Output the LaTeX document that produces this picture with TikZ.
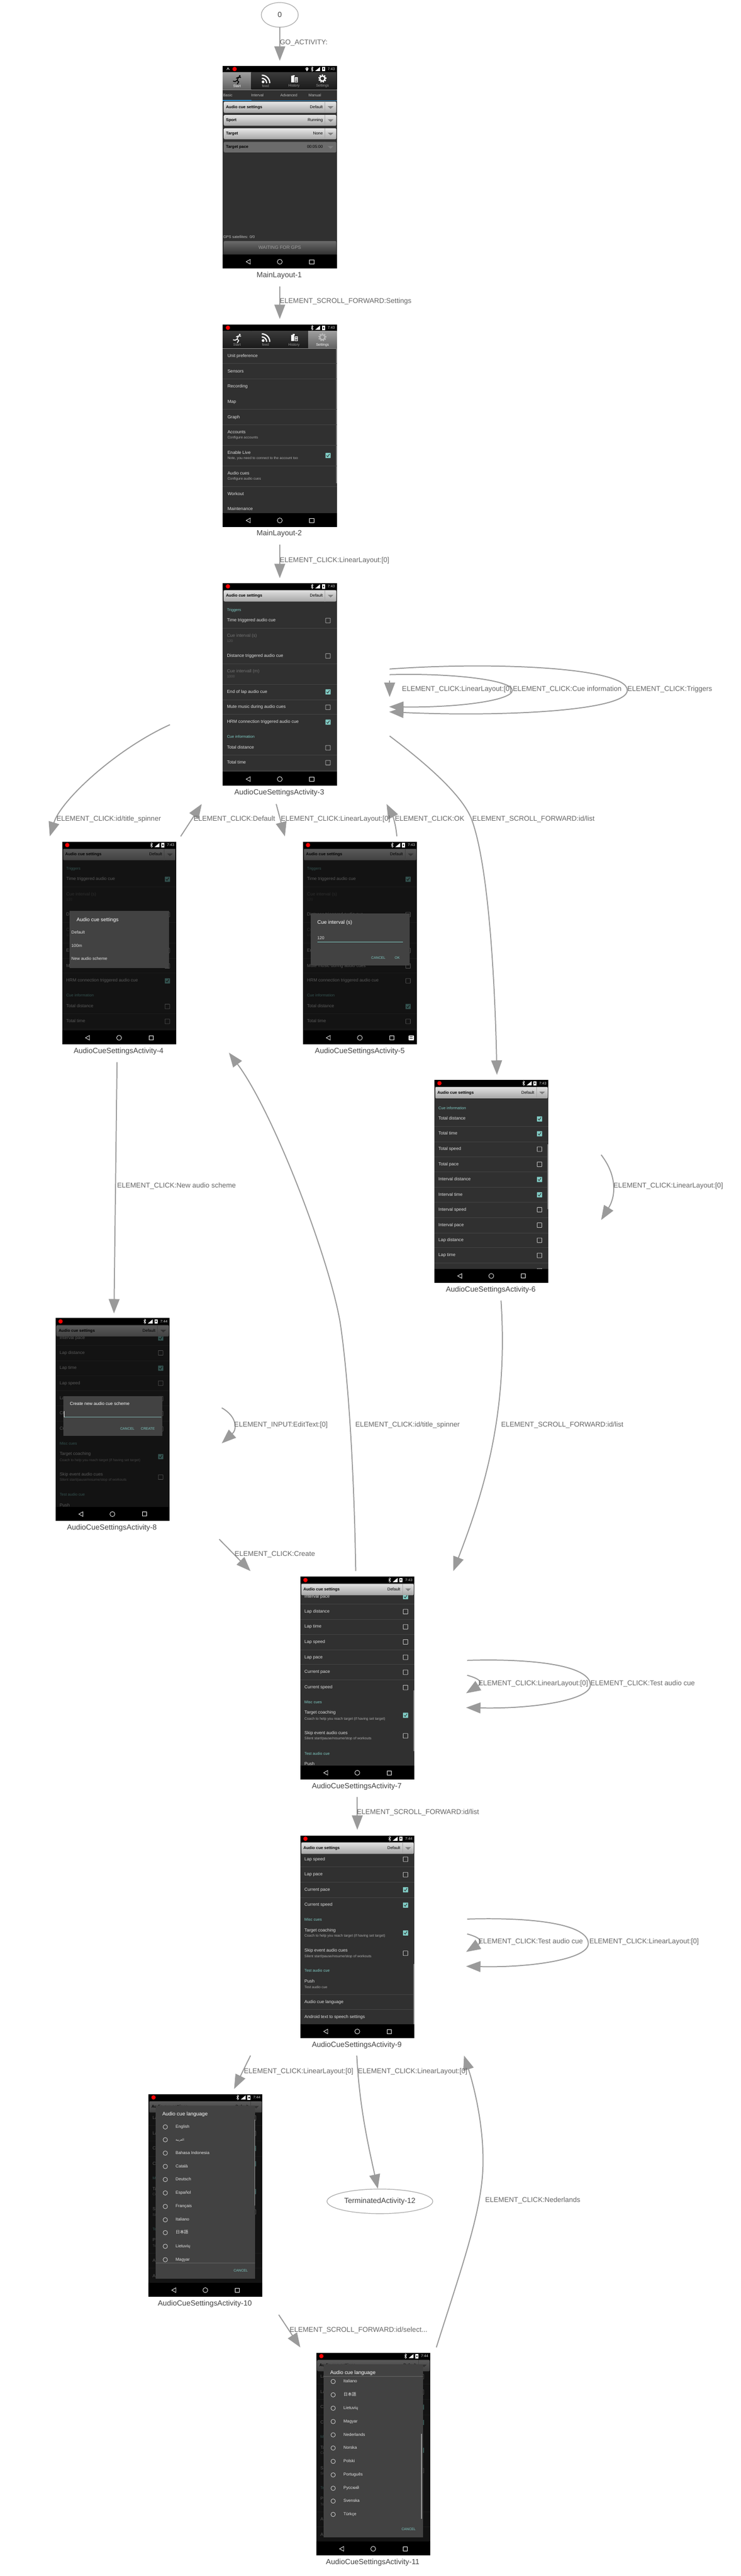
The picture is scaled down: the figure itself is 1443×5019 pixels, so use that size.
\documentclass[tikz,border=0pt]{standalone}
\usepackage{fontspec}
\setmainfont{Liberation Sans}
\newfontfamily\cjkf{Noto Sans CJK JP}
\newfontfamily\arfont[Script=Arabic]{DejaVu Sans}
\TeXXeTstate=1
\usetikzlibrary{arrows.meta,calc,shapes.geometric}
\definecolor{scrbg}{HTML}{303030}
\definecolor{dlgbg}{HTML}{424242}
\definecolor{tealc}{HTML}{80CBC4}
\definecolor{edgec}{HTML}{9A9A9A}
\definecolor{elab}{HTML}{666666}
\definecolor{nlab}{HTML}{444444}
\definecolor{divc}{HTML}{454545}
\definecolor{recc}{HTML}{FF0000}
\tikzset{
 gbox/.style={rectangle,minimum width=428pt,minimum height=440pt,inner sep=0pt,outer sep=0pt},
 screenbox/.style={rectangle,fill=scrbg,minimum width=222pt,minimum height=395pt,inner sep=0pt,outer sep=0pt},
 flow/.style={draw=edgec,line width=2pt,-{Triangle[length=28pt,width=21pt]}},
 elabel/.style={anchor=west,inner sep=0pt,text=elab,text height=9.8pt,text depth=2.8pt,font=\fontsize{13.6}{16}\selectfont},
 nlabel/.style={inner sep=0pt,text=nlab,text height=10.4pt,text depth=3pt,font=\fontsize{14.5}{17}\selectfont},
 oval/.style={ellipse,draw=gray!70,line width=1.2pt,inner sep=0pt,text=nlab,font=\fontsize{14.5}{17}\selectfont},
 tx/.style={anchor=west,inner sep=0pt,text=white!88!black,text height=6.2pt,text depth=1.8pt,font=\fontsize{8.6}{10}\selectfont},
 sx/.style={anchor=west,inner sep=0pt,text=white!68!black,text height=5pt,text depth=1.5pt,font=\fontsize{6.9}{8}\selectfont},
 gx/.style={anchor=west,inner sep=0pt,text=white!45!black,text height=6.2pt,text depth=1.8pt,font=\fontsize{8.6}{10}\selectfont},
 gsx/.style={anchor=west,inner sep=0pt,text=white!38!black,text height=5pt,text depth=1.5pt,font=\fontsize{6.9}{8}\selectfont},
 hx/.style={anchor=west,inner sep=0pt,text=tealc,text height=5.5pt,text depth=1.6pt,font=\fontsize{7.6}{9}\selectfont},
 bx/.style={anchor=west,inner sep=0pt,text=black,text height=5.7pt,text depth=1.6pt,font=\bfseries\fontsize{7.9}{9}\selectfont},
 vx/.style={anchor=east,inner sep=0pt,text=black,text height=5.7pt,text depth=1.6pt,font=\fontsize{7.9}{9}\selectfont},
 btn/.style={inner sep=0pt,text=tealc,font=\fontsize{6.8}{8}\selectfont},
 dt/.style={anchor=west,inner sep=0pt,text=white,text height=7.2pt,text depth=2pt,font=\fontsize{10}{12}\selectfont},
 dr/.style={anchor=west,inner sep=0pt,text=white!90!black,text height=5.9pt,text depth=1.7pt,font=\fontsize{8.2}{10}\selectfont},
 tabtx/.style={anchor=west,inner sep=0pt,text=white!75!black,text height=5.3pt,text depth=1.6pt,font=\fontsize{7.4}{9}\selectfont},
}
\newcommand{\xrow}[2]{\node[tx] at (8,#1) {#2};}
\newcommand{\xsub}[2]{\node[sx] at (8,#1) {#2};}
\newcommand{\xhead}[2]{\node[hx] at (8,#1) {#2};}
\newcommand{\xdv}[1]{\draw[divc,line width=.7pt] (0,#1) -- (222,#1);}
\newcommand{\xoff}[1]{\draw[white!80!black,line width=.8pt,rounded corners=.5pt] (200.4,#1-4.5) rectangle (209.4,#1+4.5);}
\newcommand{\xon}[1]{\fill[tealc,rounded corners=.5pt] (200,#1-5) rectangle (210,#1+5);
 \draw[scrbg,line width=1pt] (202.2,#1) -- (204.3,#1+2.3) -- (208,#1-3);}
\newcommand{\xchk}[2]{\ifnum#1=1 \xon{#2}\else\xoff{#2}\fi}
\newcommand{\xstatus}[3]{% time, dot x, extras flag
 \fill[black] (0,0) rectangle (222,13);
 \fill[recc] (#2,6.5) circle (4.2pt);
 \draw[white,line width=.7pt] (172,4) -- (176,9) -- (174,11) -- (174,2) -- (176,4) -- (172,9);
 \fill[white] (180,10.5) -- (189.5,10.5) -- (189.5,2.5) -- cycle;
 \fill[white] (193.2,2.5) rectangle (199.2,11);
 \fill[black] (195,5) rectangle (197.4,8);
 \node[anchor=east,inner sep=0pt,text=white!85!black,font=\fontsize{7.2}{8}\selectfont] at (218.5,6.6) {#1};
 \ifnum#3=1
  \fill[white] (164,6) circle (2.8pt);
  \fill[white] (161.6,7) -- (164,11) -- (166.4,7) -- cycle;
  \fill[black] (164,6) circle (1pt);
  \draw[white,line width=.8pt] (8,8) -- (10,4) -- (12.5,8);
 \fi}
\newcommand{\xnav}{%
 \fill[black] (0,368) rectangle (222,395);
 \draw[white,line width=.8pt] (53.5,377.5) -- (45.5,382) -- (53.5,386.5) -- cycle;
 \draw[white,line width=.8pt] (111,382) circle (4.8pt);
 \draw[white,line width=.8pt] (169,378) rectangle (177.5,386);}
\newcommand{\xspin}[6]{%
 \pgfmathsetmacro\ymid{(#1+#2)/2}
 \shade[top color=#5,bottom color=#6,rounded corners=2pt] (2,#1) rectangle (221,#2);
 \draw[#6,line width=.7pt] (199,#1) -- (199,#2);
 \fill[gray] (204.5,\ymid-2) -- (215.5,\ymid-2) -- (210,\ymid+3) -- cycle;
 \node[bx] at (6,\ymid) {#3};
 \node[vx] at (195,\ymid) {#4};}
\newcommand{\xtopspin}{\xspin{14}{36}{Audio cue settings}{Default}{white!88!black}{white!65!black}}
\newcommand{\xdim}{\fill[black,opacity=.6] (0,13) rectangle (222,368);}
\newcommand{\xtabs}[1]{%
 \foreach \i/\lab in {0/Start,1/feed,2/History,3/Settings}{
  \pgfmathsetmacro\xa{55.5*\i}\pgfmathsetmacro\xb{55.5*\i+55.5}\pgfmathsetmacro\xc{55.5*\i+27.75}
  \ifnum\i=#1
   \shade[top color=white!62!black,bottom color=white!38!black] (\xa,13) rectangle (\xb,47);
   \node[inner sep=0pt,text=white,font=\fontsize{7}{8}\selectfont] at (\xc,39.8) {\lab};
  \else
   \shade[top color=white!23!black,bottom color=black!90!white] (\xa,13) rectangle (\xb,46);
   \draw[black,line width=.5pt] (\xb,13) -- (\xb,46);
   \node[inner sep=0pt,text=white!60!black,font=\fontsize{7}{8}\selectfont] at (\xc,39.8) {\lab};
  \fi}
 \draw[white!55!black,line width=.7pt] (0,46.7) -- (222,46.7);
 \fill[white] (78.5,31.5) circle (2.7pt);
 \draw[white,line width=2.4pt] (76,24.5) arc[start angle=90,end angle=0,radius=9.5pt];
 \draw[white,line width=2.4pt] (76,18.5) arc[start angle=90,end angle=0,radius=15.5pt];
 \fill[white] (133,20) rectangle (139,32.7);
 \fill[white] (136,18.3) rectangle (140,21);
 \fill[white] (140,23) rectangle (146,32.7);
 \draw[black,line width=.5pt] (141,26) -- (145,26) (141,28.5) -- (145,28.5) (141,30.8) -- (145,30.8);}
\newcommand{\xgear}[1]{%
 \draw[#1,line width=2.4pt] (194,25) circle (5pt);
 \draw[#1,line width=2pt,dash pattern=on 2.4pt off 2.4pt] (194,25) circle (7pt);}
\newcommand{\xrunner}[1]{%
 \fill[#1] (33,20) circle (1.9pt);
 \draw[#1,line width=1.7pt] (35.5,23) -- (30.5,22.5) -- (26,24.5) (30.5,22.5) -- (28,28.5) -- (31,31.5) -- (28,36) (28,28.5) -- (24,31) -- (20,30);}
% base of activities 3, 4, 5
\newcommand{\xbaseA}[5]{%
 \xhead{53}{Triggers}
 \xrow{73}{Time triggered audio cue}\xchk{#1}{73}
 \xdv{88}
 \node[gx] at (8,103) {Cue interval (s)};
 \node[gsx] at (8,113.5) {120};
 \xrow{142}{Distance triggered audio cue}\xoff{142}
 \xdv{157.5}
 \node[gx] at (8,172) {Cue intervall (m)};
 \node[gsx] at (8,183) {1000};
 \xdv{197}
 \xrow{212}{End of lap audio cue}\xchk{#2}{212}
 \xdv{227}
 \xrow{242}{Mute music during audio cues}\xoff{242}
 \xdv{256}
 \xrow{271}{HRM connection triggered audio cue}\xchk{#3}{271}
 \xhead{300}{Cue information}
 \xrow{321}{Total distance}\xchk{#4}{321}
 \xdv{335}
 \xrow{350}{Total time}\xchk{#5}{350}
 \xdv{365}}
% base of activities 7, 8
\newcommand{\xbaseB}[1]{%
 \xrow{39}{Interval pace}\xon{39}
 \xdv{53}
 \xrow{68}{Lap distance}\xoff{68}
 \xdv{83}
 \xrow{97.6}{Lap time}\xchk{#1}{97.6}
 \xdv{112}
 \xrow{127}{Lap speed}\xoff{127}
 \xdv{142}
 \xrow{157}{Lap pace}\xoff{157}
 \xdv{171}
 \xrow{186}{Current pace}\xoff{186}
 \xdv{201}
 \xrow{216}{Current speed}\xoff{216}
 \xhead{245}{Misc cues}
 \xrow{265}{Target coaching}
 \xsub{277}{Coach to help you reach target (if having set target)}\xon{270}
 \xrow{305.5}{Skip event audio cues}
 \xsub{316}{Silent start/pause/resume/stop of workouts}\xoff{310}
 \xhead{345}{Test audio cue}
 \xrow{365}{Push}
 \xtopspin}
% base of activities 9, 10, 11
\newcommand{\xbaseC}{%
 \xrow{46.5}{Lap speed}\xoff{46.5}
 \xdv{61}
 \xrow{76.5}{Lap pace}\xoff{76.5}
 \xdv{91}
 \xrow{106}{Current pace}\xon{106}
 \xdv{121}
 \xrow{135.8}{Current speed}\xon{135.8}
 \xhead{164.5}{Misc cues}
 \xrow{185}{Target coaching}
 \xsub{196}{Coach to help you reach target (if having set target)}\xon{190}
 \xrow{225}{Skip event audio cues}
 \xsub{236}{Silent start/pause/resume/stop of workouts}\xoff{229.6}
 \xhead{264}{Test audio cue}
 \xrow{285}{Push}
 \xsub{296}{Test audio cue}
 \xdv{310}
 \xrow{325}{Audio cue language}
 \xdv{339}
 \xrow{354.6}{Android text to speech settings}
 \xtopspin}
\newcommand{\xradio}[2]{%
 \draw[white!85!black,line width=.8pt] (33,#1) circle (4.3pt);
 \node[dr] at (53,#1) {#2};}
\newcommand{\xlangdlg}{%
 \fill[dlgbg] (14,22) rectangle (208,360);
 \node[dt] at (27,39) {Audio cue language};
 \node[btn] at (180,344) {CANCEL};}
\begin{document}
\begin{tikzpicture}[x=1pt,y=-1pt]
\useasboundingbox (0,0) rectangle (1443,5019);
\fill[white] (0,0) rectangle (1443,5019);
% layout boxes that the connectors attach to
\node[gbox] (n1) at (545,338.5) {};
\node[gbox] (n2) at (545,841.5) {};
\node[gbox] (n3) at (545,1346.5) {};
\node[gbox] (n4) at (232,1849.5) {};
\node[gbox] (n5) at (701,1849.5) {};
\node[gbox] (n6) at (957,2314) {};
\node[gbox] (n7) at (696,3281) {};
\node[gbox] (n8) at (219,2779) {};
\node[gbox] (n9) at (696,3785) {};
\node[gbox] (n10) at (400,4290) {};
\node[gbox] (n11) at (727,4793.5) {};
\node[oval,minimum width=72pt,minimum height=48pt] (n0) at (545,29) {0};
\node[oval,minimum width=206pt,minimum height=48pt] (n12) at (740,4289) {TerminatedActivity-12};

% MainLayout-1
\node[screenbox] (s1) at (545,325.5) {};
\begin{scope}[shift={(434,128)}]
 \xstatus{7:43}{23}{1}
 \xtabs{0}
 \xrunner{black}
 \xgear{white}
 \node[tabtx] at (.5,58.4) {Basic};
 \node[tabtx] at (55,58.4) {Interval};
 \node[tabtx] at (112,58.4) {Advanced};
 \node[tabtx] at (167,58.4) {Manual};
 \fill[cyan!70!blue!85!white] (0,66.5) rectangle (56,69);
 \fill[cyan!70!blue!85!white] (56,68) rectangle (222,69);
 \xspin{70}{92}{Audio cue settings}{Default}{white!90!black}{white!65!black}
 \xspin{96}{117}{Sport}{Running}{white!90!black}{white!65!black}
 \xspin{122}{143.3}{Target}{None}{white!90!black}{white!65!black}
 \xspin{148.3}{169}{Target pace}{00:05:00}{white!42!black}{white!42!black}
 \node[tabtx] at (.7,334) {GPS satellites: 0/0};
 \shade[top color=white!42!black,bottom color=white!20!black,rounded corners=2pt] (2,341.6) rectangle (221,367);
 \node[inner sep=0pt,text=white!62!black,font=\fontsize{9.2}{11}\selectfont] at (111,354) {WAITING FOR GPS};
 \xnav
\end{scope}
\node[nlabel] (l1) at (544,537) {MainLayout-1};

% MainLayout-2
\node[screenbox] (s2) at (545,829.5) {};
\begin{scope}[shift={(434,632)}]
 \xstatus{7:43}{10}{0}
 \xtabs{3}
 \xrunner{white}
 \xgear{white!72!black}
 \fill[white!45!black] (220.5,47) rectangle (222,310);
 \node[tx] at (9,62) {Unit preference}; \xdv{76}
 \node[tx] at (9,92) {Sensors}; \xdv{106}
 \node[tx] at (9,121.5) {Recording};
 \node[tx] at (9,151) {Map}; \xdv{165}
 \node[tx] at (9,181) {Graph}; \xdv{195}
 \node[tx] at (9,210) {Accounts};
 \node[sx] at (9,221) {Configure accounts}; \xdv{235.5}
 \node[tx] at (9,250.5) {Enable Live};
 \node[sx] at (9,261) {Note, you need to connect to the account too};
 \xon{255.5} \xdv{275.5}
 \node[tx] at (9,290.5) {Audio cues};
 \node[sx] at (9,301.6) {Configure audio cues}; \xdv{315.5}
 \node[tx] at (9,330.5) {Workout};
 \node[tx] at (9,360) {Maintenance};
 \xnav
\end{scope}
\node[nlabel] (l2) at (544,1040) {MainLayout-2};

% AudioCueSettingsActivity-3
\node[screenbox] (s3) at (545,1333.5) {};
\begin{scope}[shift={(434,1136)}]
 \xstatus{7:43}{10}{0}
 \xtopspin
 \xbaseA{0}{1}{1}{0}{0}
 \xnav
\end{scope}
\node[nlabel] (l3) at (544,1545) {AudioCueSettingsActivity-3};

% AudioCueSettingsActivity-4
\node[screenbox] (s4) at (232,1837.5) {};
\begin{scope}[shift={(121,1640)}]
 \xstatus{7:43}{10}{0}
 \xtopspin
 \xbaseA{1}{0}{1}{0}{0}
 \xdim
 \fill[dlgbg] (15,135) rectangle (208,246);
 \node[dt] at (28,153) {Audio cue settings};
 \node[dr] at (18,177) {Default};
 \node[dr] at (18,203) {100m};
 \node[dr] at (18,228) {New audio scheme};
 \xnav
\end{scope}
\node[nlabel] (l4) at (231,2049) {AudioCueSettingsActivity-4};

% AudioCueSettingsActivity-5
\node[screenbox] (s5) at (701,1837.5) {};
\begin{scope}[shift={(590,1640)}]
 \xstatus{7:43}{10}{0}
 \xtopspin
 \xbaseA{1}{0}{0}{1}{0}
 \xdim
 \fill[dlgbg] (15,140) rectangle (208,241);
 \node[dt] at (28,158) {Cue interval (s)};
 \node[dr] at (28,188) {120};
 \fill[tealc] (28,195) rectangle (195,196);
 \node[btn] at (147,226) {CANCEL};
 \node[btn] at (184,226) {OK};
 \xnav
 \fill[white,rounded corners=1pt] (206,377.5) rectangle (216.5,387);
 \draw[black,line width=.7pt] (208,380) -- (214.5,380) (208.5,383) -- (214,383);
\end{scope}
\node[nlabel] (l5) at (701,2049) {AudioCueSettingsActivity-5};

% AudioCueSettingsActivity-6
\node[screenbox] (s6) at (957,2301.5) {};
\begin{scope}[shift={(846,2104)}]
 \xstatus{7:43}{10}{0}
 \xtopspin
 \xhead{55.5}{Cue information}
 \xrow{76}{Total distance}\xon{76}\xdv{90.5}
 \xrow{105}{Total time}\xon{105}\xdv{120.5}
 \xrow{135}{Total speed}\xoff{135}\xdv{150}
 \xrow{164.5}{Total pace}\xoff{164.5}\xdv{179}
 \xrow{194}{Interval distance}\xon{194}\xdv{209}
 \xrow{224}{Interval time}\xon{224}\xdv{238.5}
 \xrow{253}{Interval speed}\xoff{253}\xdv{268}
 \xrow{283}{Interval pace}\xoff{283}\xdv{298}
 \xrow{312.5}{Lap distance}\xoff{312.5}\xdv{327}
 \xrow{342}{Lap time}\xoff{342}\xdv{357}
 \xoff{372}
 \fill[white!45!black] (220.3,125.6) rectangle (222,252);
 \xnav
\end{scope}
\node[nlabel] (l6) at (956,2513) {AudioCueSettingsActivity-6};

% AudioCueSettingsActivity-7
\node[screenbox] (s7) at (696,3269.5) {};
\begin{scope}[shift={(585,3072)}]
 \xstatus{7:43}{10}{0}
 \xbaseB{0}
 \fill[white!45!black] (220.3,221) rectangle (222,340);
 \xnav
\end{scope}
\node[nlabel] (l7) at (695,3481) {AudioCueSettingsActivity-7};

% AudioCueSettingsActivity-8
\node[screenbox] (s8) at (219,2765.5) {};
\begin{scope}[shift={(108,2568)}]
 \xstatus{7:44}{10}{0}
 \xbaseB{1}
 \xdim
 \fill[dlgbg] (15,152) rectangle (208,230);
 \node[tx,text=white] at (28,168) {Create new audio cue scheme};
 \draw[tealc!70!gray,line width=.8pt] (17,193) -- (206,193);
 \draw[white,line width=.7pt] (17,181) -- (17,193);
 \node[btn] at (140,215.6) {CANCEL};
 \node[btn] at (180,215.6) {CREATE};
 \xnav
\end{scope}
\node[nlabel] (l8) at (218,2977) {AudioCueSettingsActivity-8};

% AudioCueSettingsActivity-9
\node[screenbox] (s9) at (696,3773.5) {};
\begin{scope}[shift={(585,3576)}]
 \xstatus{7:44}{10}{0}
 \xbaseC
 \fill[white!45!black] (220.3,250) rectangle (222,369);
 \xnav
\end{scope}
\node[nlabel] (l9) at (695,3985) {AudioCueSettingsActivity-9};

% AudioCueSettingsActivity-10
\node[screenbox] (s10) at (400,4277.5) {};
\begin{scope}[shift={(289,4080)}]
 \xstatus{7:44}{10}{0}
 \xbaseC
 \xdim
 \xlangdlg
 \xradio{64}{English}
 \draw[white!85!black,line width=.8pt] (33,89) circle (4.3pt);
 \node[dr,font=\arfont\fontsize{6}{8}\selectfont] at (53,89) {\beginR العربية\endR};
 \xradio{115}{Bahasa Indonesia}
 \xradio{141}{Català}
 \xradio{166.5}{Deutsch}
 \xradio{192.6}{Español}
 \xradio{219}{Français}
 \xradio{245}{Italiano}
 \xradio{270}{{\cjkf 日本語}}
 \xradio{296.6}{Lietuvių}
 \xradio{322.7}{Magyar}
 \fill[dlgbg] (14,329) rectangle (208,335);
 \draw[white!40!black,line width=.6pt] (14,329) -- (208,329);
 \fill[white!60!black] (206.5,50) rectangle (208,217);
 \xnav
\end{scope}
\node[nlabel] (l10) at (399,4489) {AudioCueSettingsActivity-10};

% AudioCueSettingsActivity-11
\node[screenbox] (s11) at (727,4781.5) {};
\begin{scope}[shift={(616,4584)}]
 \xstatus{7:44}{10}{0}
 \xbaseC
 \xdim
 \xlangdlg
 \draw[white!40!black,line width=.6pt] (14,46) -- (208,46);
 \xradio{56}{Italiano}
 \xradio{82}{{\cjkf 日本語}}
 \xradio{108}{Lietuvių}
 \xradio{134}{Magyar}
 \xradio{160}{Nederlands}
 \xradio{185.6}{Norska}
 \xradio{211.6}{Polski}
 \xradio{238}{Português}
 \xradio{264}{Русский}
 \xradio{289}{Svenska}
 \xradio{315}{Türkçe}
 \fill[white!60!black] (204.5,158) rectangle (206,324);
 \xnav
\end{scope}
\node[nlabel] (l11) at (726,4993) {AudioCueSettingsActivity-11};

% connectors
\draw[flow] (n0.south) -- (n1.north);
\draw[flow] (n1.south) -- (n2.north);
\draw[flow] (n2.south) -- (n3.north);
% loops on 3
\draw[flow] ($(n3.east)+(0,-20)$) -- ($(n3.east)+(0,11.5)$);
\draw[flow] ($(n3.east)+(0,-32)$) .. controls (880,1311) and (998,1325) .. (998,1345) .. controls (998,1365) and (890,1379) .. ($(n3.east)+(-1,30.5)$);
\draw[flow] ($(n3.east)+(0,-43)$) .. controls (960,1289) and (1222,1300) .. (1222,1345) .. controls (1222,1385) and (980,1397) .. ($(n3.east)+(-1,40.5)$);
\draw[flow] ($(n3.west)+(0,65.5)$) .. controls (225,1460) and (118,1560) .. ($(n4.north)+(-135,0)$);
\draw[flow] ($(n4.north)+(120,0)$) -- ($(n3.south)+(-152,0)$);
\draw[flow] ($(n3.south)+(-7,0)$) -- ($(n5.north)+(-146,0)$);
\draw[flow] ($(n5.north)+(72,0)$) .. controls (771,1605) and (765,1590) .. ($(n3.south)+(208,0)$);
\draw[flow] ($(n3.east)+(0,87.5)$) .. controls (840,1495) and (905,1555) .. (920,1600) .. controls (955,1700) and (965,1950) .. ($(n6.north)+(11,0)$);
\draw[flow] ($(n4.south)+(-4,0)$) -- ($(n8.north)+(3,0)$);
\draw[flow] ($(n6.east)+(0,-64)$) .. controls (1202,2290) and (1200,2330) .. ($(n6.east)+(0,63)$);
\draw[flow] ($(n8.east)+(-1,-36)$) .. controls (462,2760) and (462,2785) .. ($(n8.east)+(-1,33)$);
\draw[flow] ($(n7.north)+(-3,0)$) .. controls (690,2880) and (680,2700) .. (664,2586) .. controls (648,2470) and (535,2170) .. ($(n4.east)+(0,201.5)$);
\draw[flow] ($(n6.south)+(19,0)$) .. controls (990,2750) and (945,2900) .. ($(n7.north)+(187,0)$);
\draw[flow] ($(n8.south)+(208,0)$) -- ($(n7.north)+(-208,0)$);
\draw[flow] (n7.south) -- (n9.north);
\draw[flow] ($(n7.east)+(0,-46)$) .. controls (1040,3231) and (1150,3245) .. (1150,3283) .. controls (1150,3312) and (1040,3330) .. ($(n7.east)+(-2,46)$);
\draw[flow] ($(n7.east)+(0,-17)$) .. controls (925,3268) and (945,3276) .. ($(n7.east)+(-2,18)$);
\draw[flow] ($(n9.east)+(0,-46)$) .. controls (1040,3735) and (1146,3749) .. (1146,3787) .. controls (1146,3816) and (1040,3834) .. ($(n9.east)+(-2,46)$);
\draw[flow] ($(n9.east)+(0,-17)$) .. controls (925,3772) and (945,3780) .. ($(n9.east)+(-2,18)$);
\draw[flow] ($(n9.south)+(-208,0)$) -- ($(n10.north)+(56,0)$);
\draw[flow] ($(n9.south)+(-1,0)$) .. controls (700,4100) and (715,4170) .. ($(n12.north)+(-4,0)$);
\draw[flow] ($(n10.south)+(143,0)$) -- ($(n11.north)+(-142,0)$);
\draw[flow] ($(n11.north)+(123,0)$) .. controls (905,4400) and (941,4300) .. (941,4210) .. controls (941,4140) and (925,4070) .. ($(n9.south)+(208,0)$);

% connector labels
\node[elabel] (e1) at (545,83) {GO\_ACTIVITY:};
\node[elabel] (e2) at (545,587) {ELEMENT\_SCROLL\_FORWARD:Settings};
\node[elabel] (e3) at (545,1092) {ELEMENT\_CLICK:LinearLayout:[0]};
\node[elabel] (e4) at (783,1343) {ELEMENT\_CLICK:LinearLayout:[0]};
\node[elabel] (e5) at (999,1343) {ELEMENT\_CLICK:Cue information};
\node[elabel] (e6) at (1222,1343) {ELEMENT\_CLICK:Triggers};
\node[elabel] (e7) at (110,1596) {ELEMENT\_CLICK:id/title\_spinner};
\node[elabel] (e8) at (377,1596) {ELEMENT\_CLICK:Default};
\node[elabel] (e9) at (547,1596) {ELEMENT\_CLICK:LinearLayout:[0]};
\node[elabel] (e10) at (769,1596) {ELEMENT\_CLICK:OK};
\node[elabel] (e11) at (920,1596) {ELEMENT\_SCROLL\_FORWARD:id/list};
\node[elabel] (e12) at (228,2311) {ELEMENT\_CLICK:New audio scheme};
\node[elabel] (e13) at (1195,2311) {ELEMENT\_CLICK:LinearLayout:[0]};
\node[elabel] (e14) at (456,2776) {ELEMENT\_INPUT:EditText:[0]};
\node[elabel] (e15) at (692,2776) {ELEMENT\_CLICK:id/title\_spinner};
\node[elabel] (e16) at (976,2776) {ELEMENT\_SCROLL\_FORWARD:id/list};
\node[elabel] (e17) at (457,3028) {ELEMENT\_CLICK:Create};
\node[elabel] (e18) at (932,3280) {ELEMENT\_CLICK:LinearLayout:[0]};
\node[elabel] (e19) at (1150,3280) {ELEMENT\_CLICK:Test audio cue};
\node[elabel] (e20) at (695,3531) {ELEMENT\_SCROLL\_FORWARD:id/list};
\node[elabel] (e21) at (932,3783) {ELEMENT\_CLICK:Test audio cue};
\node[elabel] (e22) at (1148,3783) {ELEMENT\_CLICK:LinearLayout:[0]};
\node[elabel] (e23) at (475,4036) {ELEMENT\_CLICK:LinearLayout:[0]};
\node[elabel] (e24) at (697,4036) {ELEMENT\_CLICK:LinearLayout:[0]};
\node[elabel] (e25) at (945,4287) {ELEMENT\_CLICK:Nederlands};
\node[elabel] (e26) at (564,4540) {ELEMENT\_SCROLL\_FORWARD:id/select...};
\end{tikzpicture}
\end{document}
